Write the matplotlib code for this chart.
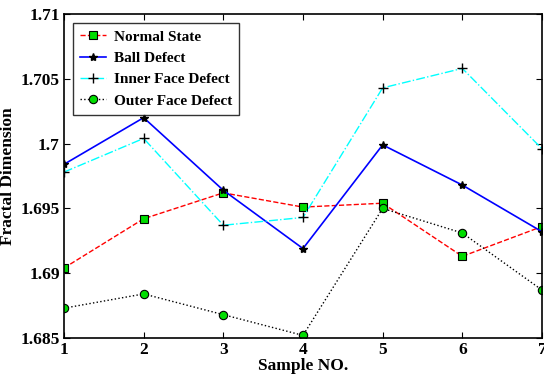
import matplotlib
matplotlib.use("Agg")
import matplotlib.pyplot as plt

samples = [1, 2, 3, 4, 5, 6, 7]
normal_state = [1.6904, 1.6942, 1.6962, 1.6951, 1.6954, 1.6913, 1.6936]
ball_defect = [1.6984, 1.7020, 1.6964, 1.6919, 1.6999, 1.6968, 1.6932]
inner_defect = [1.6978, 1.7004, 1.6937, 1.6943, 1.7043, 1.7058, 1.6996]
outer_defect = [1.6873, 1.6884, 1.6868, 1.6852, 1.6950, 1.6931, 1.6887]

plt.rcParams['font.family'] = ['Liberation Serif', 'DejaVu Serif']
plt.rcParams['font.weight'] = 'bold'

fig = plt.figure(figsize=(5.44, 3.75), dpi=100)
ax = fig.add_axes([0.1176, 0.0987, 0.8787, 0.864])

ax.plot(samples, normal_state, 'r--', marker='s', mfc='#00dd00', mec='k',
        ms=6, lw=1, mew=0.8, label='Normal State')
ax.plot(samples, ball_defect, 'b-', marker='*', mfc='k', mec='k',
        ms=6, lw=1.2, label='Ball Defect')
ax.plot(samples, inner_defect, color='cyan', ls='-.', marker='+', mec='k',
        ms=7, lw=1, label='Inner Face Defect')
ax.plot(samples, outer_defect, 'k:', marker='o', mfc='#00dd00', mec='k',
        ms=6, lw=1, mew=0.8, label='Outer Face Defect')

ax.set_xlim(1, 7)
ax.set_ylim(1.685, 1.71)
ax.set_xticks(samples)
ax.set_yticks([1.685, 1.69, 1.695, 1.7, 1.705, 1.71])
ax.set_yticklabels(['1.685', '1.69', '1.695', '1.7', '1.705', '1.71'])
ax.tick_params(direction='in', top=True, right=True, labelsize=12.5, length=4, pad=3)
for s in ax.spines.values():
    s.set_linewidth(1.2)

ax.set_xlabel('Sample NO.', fontsize=12.5, fontweight='bold', labelpad=0)
ax.set_ylabel('Fractal Dimension', fontsize=12.5, fontweight='bold', labelpad=3)

leg = ax.legend(loc='upper left', fontsize=11, frameon=True, fancybox=False,
                edgecolor='k', handlelength=1.7, handletextpad=0.5,
                borderaxespad=0.6, labelspacing=0.5, borderpad=0.45)
leg.get_frame().set_linewidth(1)

fig.savefig('out.png', dpi=100)
